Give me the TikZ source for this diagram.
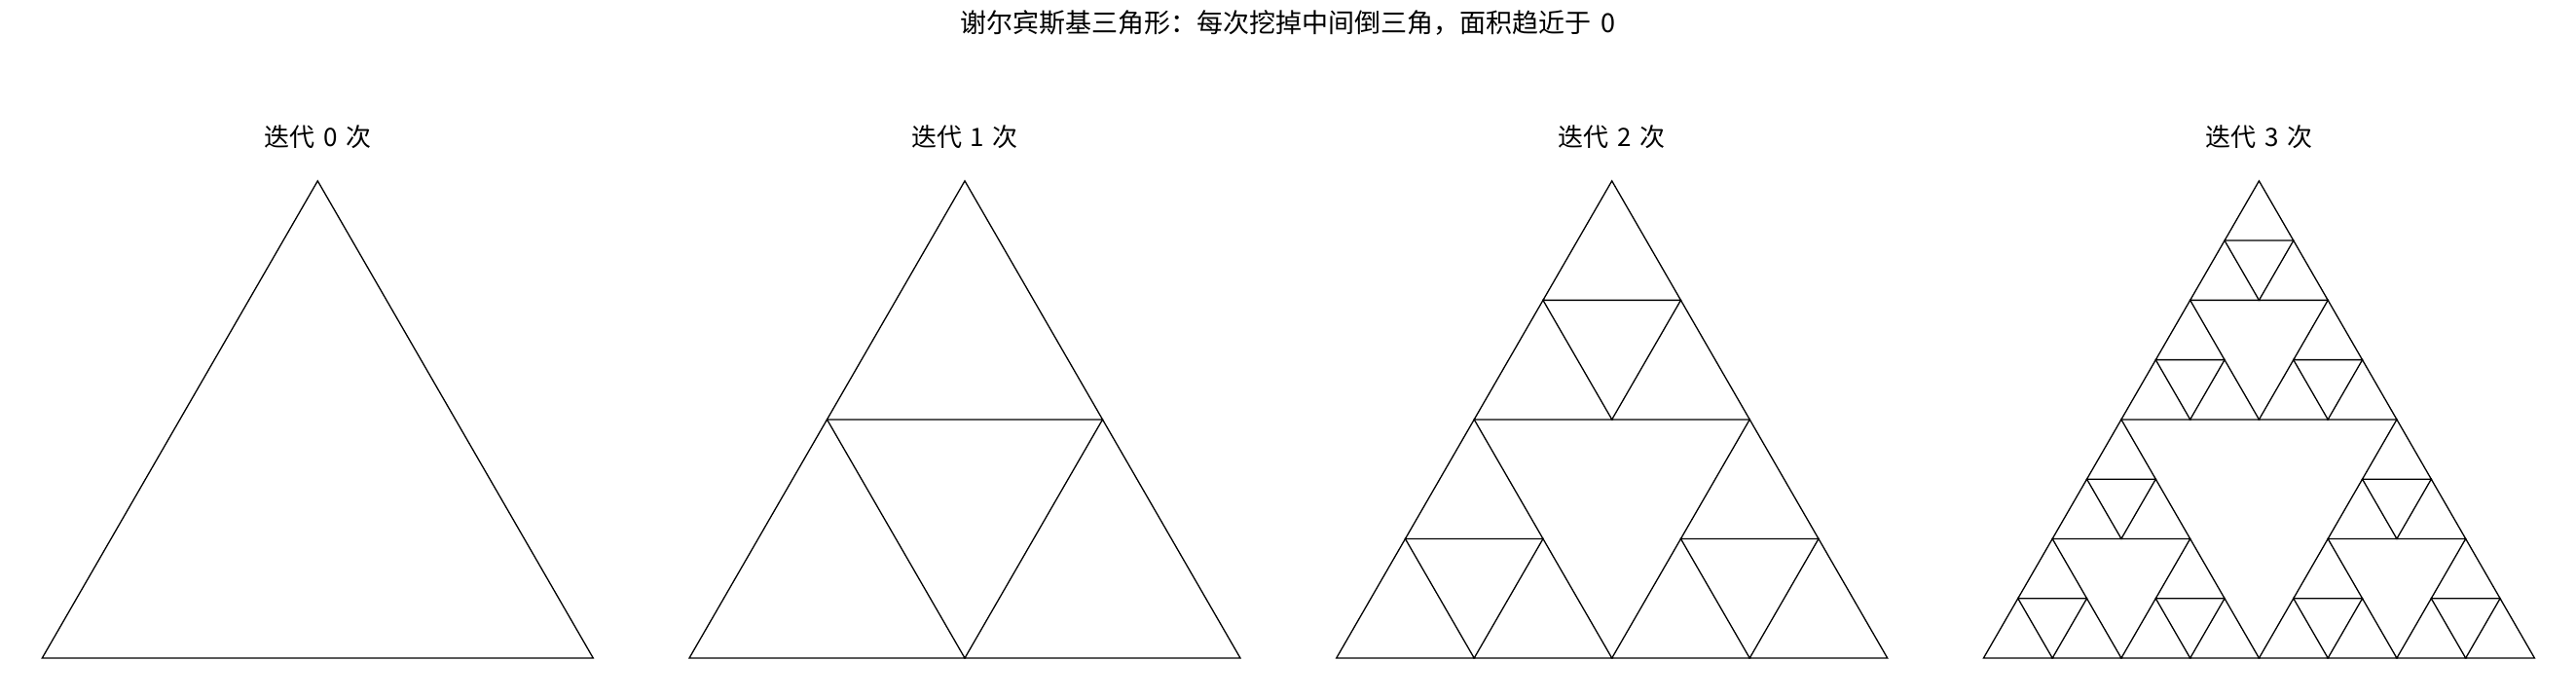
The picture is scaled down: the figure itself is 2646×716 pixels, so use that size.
\documentclass[tikz,border=0pt]{standalone}
\usepackage{fontspec}
\newfontfamily\cjk[WordSpace=1.5]{Noto Sans CJK SC}
\newcommand\sierptri[4]{%
  \begingroup
  \pgfmathsetmacro\sx{#2}%
  \pgfmathsetmacro\sy{#3}%
  \pgfmathsetmacro\ss{#4}%
  \ifnum#1=0
    \draw[tri] (\sx,\sy) -- ++(\ss,0) -- ++(120:\ss) -- cycle;
  \else
    \pgfmathsetmacro\hs{\ss/2}%
    \pgfmathsetmacro\xa{\sx+\hs}%
    \pgfmathsetmacro\xb{\sx+\hs/2}%
    \pgfmathsetmacro\yb{\sy+\hs*0.8660254}%
    \pgfmathtruncatemacro\lv{#1-1}%
    \sierptri{\lv}{\sx}{\sy}{\hs}%
    \sierptri{\lv}{\xa}{\sy}{\hs}%
    \sierptri{\lv}{\xb}{\yb}{\hs}%
  \fi
  \endgroup}
\begin{document}
\begin{tikzpicture}[x=1pt,y=1pt,
  tri/.style={draw=black,line width=1.3pt,line join=miter},
  lbl/.style={font=\cjk\fontsize{26}{30}\selectfont,anchor=base,inner sep=0pt},
  ttl/.style={font=\cjk\fontsize{27}{30}\selectfont,anchor=base,inner sep=0pt}]
\useasboundingbox[fill=white] (0,0) rectangle (2646,716);
\node[ttl] (title) at (1323,682) {谢尔宾斯基三角形：每次挖掉中间倒三角，面积趋近于 0};
\foreach \k in {0,1,2,3}{
  \pgfmathsetmacro\lx{43.3+\k*664.7}
  \pgfmathsetmacro\cx{\lx+283}
  \node[lbl] (label\k) at (\cx,565.7) {迭代 \k\ 次};
  \sierptri{\k}{\lx}{40}{566}
}
\end{tikzpicture}
\end{document}
